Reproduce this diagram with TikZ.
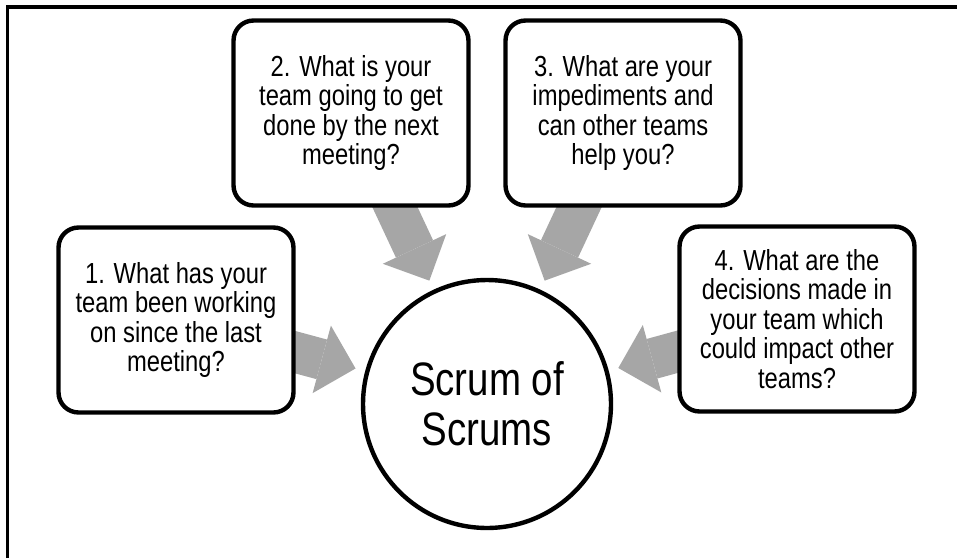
\documentclass[tikz,border=0pt]{standalone}
\usepackage{fontspec}
\setmainfont[FakeStretch=0.82]{Liberation Sans}
\usetikzlibrary{arrows.meta,backgrounds}
\definecolor{arrowgray}{RGB}{166,166,166}
\begin{document}
\begin{tikzpicture}[x=0.02cm, y=-0.02cm,
    question/.style={draw, line width=2.5pt, fill=white, rounded corners=0.4cm, minimum width=4.70cm, minimum height=3.70cm, inner sep=0pt, align=center, font=\fontsize{16.5}{16.8}\selectfont},
    hub/.style={draw, circle, line width=2.5pt, fill=white, minimum size=4.96cm, inner sep=0pt, align=center, font=\fontsize{26.7}{28.5}\selectfont},
    bigarrow/.style={line width=0.82cm, arrowgray, shorten <=-0.4cm, shorten >=0.2cm, -{Triangle[width=1.4cm, length=0.7cm, line width=0pt]}}]
	\useasboundingbox (0,0) rectangle (957,558);
	\draw[line width=2pt] (7.5,558) -- (7.5,7) -- (957,7);
	\node[hub] (hub) at (487,404) {Scrum of\\Scrums};
	\node[question] (q1) at (176,320) {1. What has your\\team been working\\on since the last\\meeting?};
	\node[question] (q2) at (351,113) {2. What is your\\team going to get\\done by the next\\meeting?};
	\node[question] (q3) at (623,113) {3. What are your\\impediments and\\can other teams\\help you?};
	\node[question] (q4) at (797,319) {4. What are the\\decisions made in\\your team which\\could impact other\\teams?};
	\begin{scope}[on background layer]
		\foreach \q in {q1,q2,q3,q4}\draw[bigarrow] (\q) -- (hub);
	\end{scope}
\end{tikzpicture}
\end{document}
